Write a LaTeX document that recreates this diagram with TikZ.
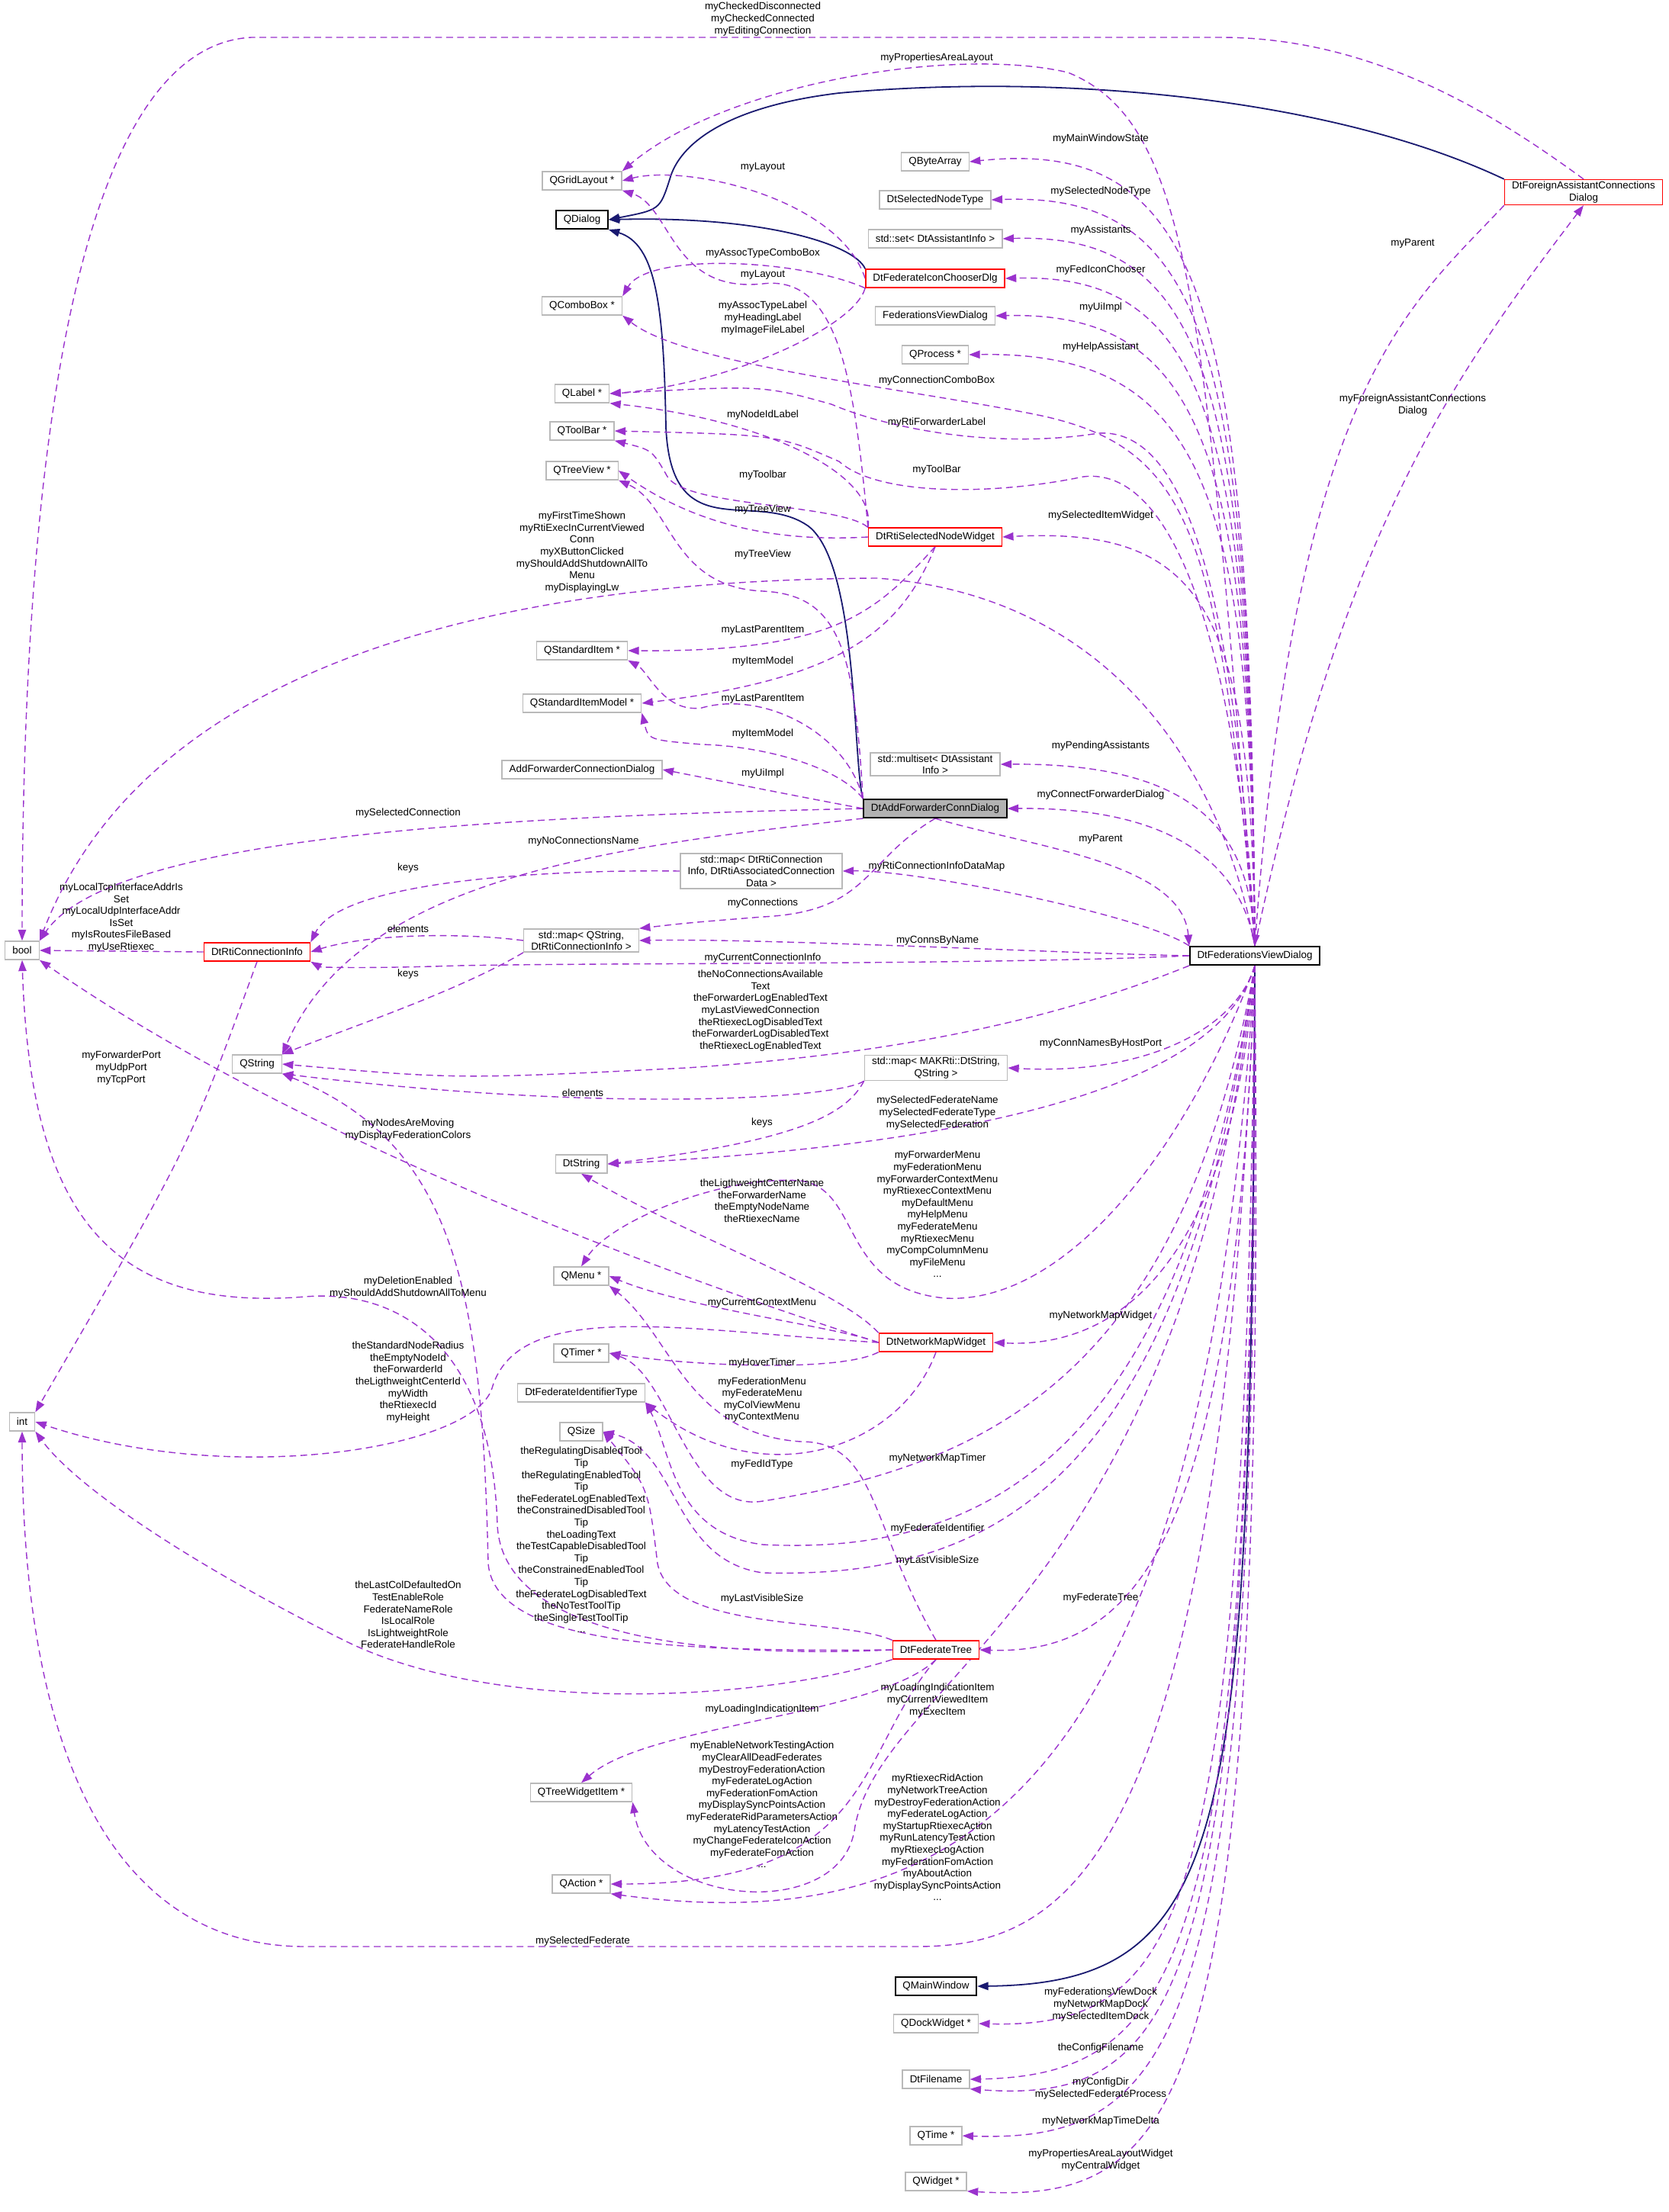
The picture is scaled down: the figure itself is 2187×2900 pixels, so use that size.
\documentclass[tikz,border=0pt]{standalone}
\usepackage{fontspec}
\setmainfont{Liberation Sans}
\usetikzlibrary{arrows.meta}
\newcommand{\lblfont}{\fontsize{3.35}{3.9}\selectfont}
\definecolor{membercol}{RGB}{154,50,205}
\definecolor{inhercol}{RGB}{25,25,112}
\pgfdeclarelayer{edges}
\pgfsetlayers{edges,main}
\tikzset{every picture/.style={line width=0.4pt}}
\tikzset{
  cls/.style={draw=gray!55, fill=white, inner xsep=2.4pt, inner ysep=0.6pt, minimum height=6pt, font=\lblfont, align=center, line width=0.35pt},
  red cls/.style={cls, draw=red},
  base cls/.style={cls, draw=black, line width=0.5pt},
  this cls/.style={cls, draw=black, fill=gray!60, line width=0.5pt},
  lbl/.style={font=\lblfont, align=center, inner sep=0pt},
  mem/.style={draw=membercol, dash pattern=on 2.2pt off 1.4pt, line width=0.35pt, -{Triangle[length=3.6pt,width=2.6pt]}, fill=none},
  inh/.style={draw=inhercol, line width=0.45pt, -{Triangle[length=3.6pt,width=2.6pt]}},
}

\begin{document}
\begin{tikzpicture}[x=0.25pt,y=-0.25pt]
\useasboundingbox (0,0) rectangle (2187,2900);

% left column
\node[cls] (bool) at (29,1246) {bool};
\node[cls] (int) at (29,1864) {int};
\node[red cls] (rtici) at (337,1248) {DtRtiConnectionInfo};
\node[cls] (qstring) at (337,1395) {QString};

% second column
\node[cls] (qgrid) at (763,237) {QGridLayout *};
\node[base cls] (qdialog) at (763,288) {QDialog};
\node[cls] (qcombo) at (763,401) {QComboBox *};
\node[cls] (qlabel) at (763,516) {QLabel *};
\node[cls] (qtoolbar) at (763,565) {QToolBar *};
\node[cls] (qtreeview) at (763,617) {QTreeView *};
\node[cls] (qsitem) at (763,853) {QStandardItem *};
\node[cls] (qsimodel) at (763,922) {QStandardItemModel *};
\node[cls] (addfwdui) at (763,1009) {AddForwarderConnectionDialog};
\node[cls] (infomap) at (998,1142) {std::map\textless{} DtRtiConnection\\Info, DtRtiAssociatedConnection\\Data \textgreater{}};
\node[cls] (connmap) at (762,1233) {std::map\textless{} QString,\\DtRtiConnectionInfo \textgreater{}};
\node[cls] (dtstring) at (762,1526) {DtString};
\node[cls] (qmenu) at (762,1673) {QMenu *};
\node[cls] (qtimer) at (762,1774) {QTimer *};
\node[cls] (fedidtype) at (762,1826) {DtFederateIdentifierType};
\node[cls] (qsize) at (762,1877) {QSize};
\node[cls] (qtwitem) at (762,2350) {QTreeWidgetItem *};
\node[cls] (qaction) at (762,2470) {QAction *};

% third column
\node[cls] (qbytearray) at (1226,212) {QByteArray};
\node[cls] (selnodetype) at (1226,262) {DtSelectedNodeType};
\node[cls] (assistset) at (1226,313) {std::set\textless{} DtAssistantInfo \textgreater{}};
\node[red cls] (iconchooser) at (1226,365) {DtFederateIconChooserDlg};
\node[cls] (fvdui) at (1226,414) {FederationsViewDialog};
\node[cls] (qprocess) at (1226,465) {QProcess *};
\node[red cls] (selnodewidget) at (1226,704) {DtRtiSelectedNodeWidget};
\node[cls] (assistmulti) at (1226,1002) {std::multiset\textless{} DtAssistant\\Info \textgreater{}};
\node[this cls] (addfwd) at (1226,1060) {DtAddForwarderConnDialog};
\node[cls] (hostmap) at (1227,1400) {std::map\textless{} MAKRti::DtString,\\QString \textgreater{}};
\node[red cls] (netmap) at (1227,1760) {DtNetworkMapWidget};
\node[red cls] (fedtree) at (1227,2163) {DtFederateTree};
\node[base cls] (qmainwindow) at (1227,2604) {QMainWindow};
\node[cls] (qdock) at (1227,2653) {QDockWidget *};
\node[cls] (dtfilename) at (1227,2726) {DtFilename};
\node[cls] (qtime) at (1227,2800) {QTime *};
\node[cls] (qwidget) at (1227,2860) {QWidget *};

% right side
\node[base cls] (fvd) at (1645,1253) {DtFederationsViewDialog};
\node[red cls] (foreign) at (2076,252) {DtForeignAssistantConnections\\Dialog};

\begin{pgfonlayer}{edges}
% inheritance
\draw[inh] (addfwd.north west) .. controls (1118,1000) and (1125,740) .. (1060,690) .. controls (990,640) and (880,720) .. (873,560) .. controls (870,400) and (860,320) .. (qdialog.south east);
\draw[inh] (iconchooser.north west) .. controls (1120,320) and (1000,283) .. (qdialog.east);
\draw[inh] (foreign.north west) .. controls (1750,130) and (1400,95) .. (1100,122) .. controls (950,140) and (890,190) .. (878,235) .. controls (865,275) .. (qdialog.east);
\draw[inh] (fvd.south) .. controls (1640,2400) and (1620,2600) .. (qmainwindow.east);

% members of the foreign dialog
\draw[mem] (foreign.north) .. controls (1960,150) and (1800,49) .. (1600,49) -- (330,49) .. controls (100,60) and (29,600) .. (bool.north);
\draw[mem] (foreign.south west) .. controls (1850,400) and (1700,500) .. (fvd.north);
\draw[mem] (fvd.north) .. controls (1760,700) and (1900,500) .. (foreign.south);

% members of the federations view dialog, upward
\draw[mem] (fvd.north) .. controls (1580,400) and (1560,160) .. (1400,95) .. controls (1250,60) and (950,110) .. (qgrid.north east);
\draw[mem] (fvd.north) .. controls (1640,400) and (1580,180) .. (qbytearray.east);
\draw[mem] (fvd.north) .. controls (1640,450) and (1580,252) .. (selnodetype.east);
\draw[mem] (fvd.north) .. controls (1640,500) and (1580,305) .. (assistset.east);
\draw[mem] (fvd.north) .. controls (1640,550) and (1580,358) .. (iconchooser.east);
\draw[mem] (fvd.north) .. controls (1640,600) and (1580,408) .. (fvdui.east);
\draw[mem] (fvd.north) .. controls (1640,650) and (1580,460) .. (qprocess.east);
\draw[mem] (fvd.north) .. controls (1640,800) and (1580,690) .. (selnodewidget.east);
\draw[mem] (fvd.north) .. controls (1640,1100) and (1580,1000) .. (assistmulti.east);
\draw[mem] (fvd.north) .. controls (1630,1150) and (1560,1058) .. (addfwd.east);
\draw[mem] (fvd.north) .. controls (1600,700) and (1560,590) .. (1370,546) .. controls (1200,510) and (900,480) .. (qcombo.south east);
\draw[mem] (fvd.north) .. controls (1620,800) and (1560,560) .. (1440,568) .. controls (1300,590) and (1160,560) .. (1090,530) .. controls (1000,505) .. (qlabel.east);
\draw[mem] (fvd.north) .. controls (1620,850) and (1540,610) .. (1420,625) .. controls (1300,650) and (1150,650) .. (1100,605) .. controls (1020,570) .. (qtoolbar.east);
\draw[mem] (fvd.north) .. controls (1600,1000) and (1450,780) .. (1150,758) .. controls (700,760) and (200,850) .. (bool.north east);
\draw[mem] (fvd.north west) .. controls (1500,1200) and (1200,1140) .. (infomap.east);
\draw[mem] (fvd.west) .. controls (1400,1250) and (1000,1230) .. (connmap.east);
\draw[mem] (fvd.west) .. controls (1300,1265) and (800,1262) .. (600,1266) .. controls (480,1270) and (420,1268) .. (rtici.south east);

% members of the federations view dialog, downward
\draw[mem] (fvd.south west) .. controls (1400,1330) and (1200,1380) .. (900,1400) .. controls (600,1415) .. (qstring.east);
\draw[mem] (fvd.south) .. controls (1620,1350) and (1500,1410) .. (hostmap.east);
\draw[mem] (fvd.south) .. controls (1600,1420) and (1300,1500) .. (dtstring.east);
\draw[mem] (fvd.south) .. controls (1560,1500) and (1400,1710) .. (1240,1702) .. controls (1100,1690) and (1130,1560) .. (1050,1548) .. controls (950,1540) and (800,1600) .. (qmenu.north);
\draw[mem] (fvd.south) .. controls (1620,1600) and (1500,1770) .. (netmap.east);
\draw[mem] (fvd.south) .. controls (1550,1800) and (1300,1920) .. (1000,1968) .. controls (900,1985) and (880,1800) .. (qtimer.east);
\draw[mem] (fvd.south) .. controls (1550,1900) and (1300,2040) .. (1000,2025) .. controls (880,2010) and (880,1900) .. (fedidtype.south east);
\draw[mem] (fvd.south) .. controls (1550,1950) and (1300,2070) .. (1000,2062) .. controls (880,2045) and (890,1900) .. (qsize.east);
\draw[mem] (fvd.south) .. controls (1620,2000) and (1500,2170) .. (fedtree.east);
\draw[mem] (fvd.south) .. controls (1550,2100) and (1150,2200) .. (1120,2400) .. controls (1100,2520) and (850,2500) .. (qtwitem.south east);
\draw[mem] (fvd.south) .. controls (1580,2300) and (1300,2550) .. (qaction.south east);
\draw[mem] (fvd.south) .. controls (1600,2450) and (1400,2552) .. (1200,2552) -- (400,2552) .. controls (150,2552) and (29,2300) .. (int.south);
\draw[mem] (fvd.south) .. controls (1630,2500) and (1560,2660) .. (qdock.east);
\draw[mem] (fvd.south) .. controls (1640,2550) and (1560,2720) .. (dtfilename.east);
\draw[mem] (fvd.south) .. controls (1640,2600) and (1560,2760) .. (dtfilename.south east);
\draw[mem] (fvd.south) .. controls (1650,2650) and (1560,2810) .. (qtime.east);
\draw[mem] (fvd.south) .. controls (1660,2750) and (1560,2890) .. (qwidget.south east);

% members of the icon chooser
\draw[mem] (iconchooser.west) .. controls (1100,260) and (900,215) .. (qgrid.east);
\draw[mem] (iconchooser.south west) .. controls (1050,340) and (850,330) .. (qcombo.north east);
\draw[mem] (iconchooser.south west) .. controls (1120,430) and (950,505) .. (qlabel.east);

% members of the selected node widget
\draw[mem] (selnodewidget.north west) .. controls (1120,500) and (1100,360) .. (1000,372) .. controls (880,385) and (880,270) .. (qgrid.south east);
\draw[mem] (selnodewidget.north west) .. controls (1150,620) and (1000,550) .. (qlabel.south east);
\draw[mem] (selnodewidget.north west) .. controls (1100,660) and (900,665) .. (875,625) .. controls (855,590) .. (qtoolbar.south east);
\draw[mem] (selnodewidget.west) .. controls (1000,712) and (900,680) .. (qtreeview.east);
\draw[mem] (selnodewidget.south) .. controls (1150,800) and (1100,855) .. (qsitem.east);
\draw[mem] (selnodewidget.south) .. controls (1180,830) and (1100,890) .. (qsimodel.east);

% members of the add forwarder dialog
\draw[mem] (addfwd.north west) .. controls (1120,850) and (1100,780) .. (1000,775) .. controls (880,770) and (880,660) .. (qtreeview.south east);
\draw[mem] (addfwd.north west) .. controls (1110,960) and (1000,905) .. (920,928) .. controls (870,935) and (850,880) .. (qsitem.south east);
\draw[mem] (addfwd.north west) .. controls (1100,1005) and (1000,978) .. (920,976) .. controls (850,970) .. (qsimodel.south east);
\draw[mem] (addfwd.west) .. controls (1050,1045) and (900,1015) .. (addfwdui.east);
\draw[mem] (addfwd.west) .. controls (700,1070) and (150,1090) .. (bool.north east);
\draw[mem] (addfwd.south west) .. controls (800,1110) and (470,1150) .. (qstring.north east);
\draw[mem] (addfwd.south) .. controls (1130,1130) and (1140,1195) .. (1000,1202) .. controls (900,1210) .. (connmap.north east);
\draw[mem] (addfwd.south) .. controls (1350,1110) and (1550,1130) .. (fvd.north west);

% members of the containers and the connection info
\draw[mem] (infomap.west) .. controls (750,1140) and (450,1150) .. (rtici.north east);
\draw[mem] (connmap.west) .. controls (600,1222) and (480,1225) .. (rtici.east);
\draw[mem] (connmap.south west) .. controls (600,1300) and (450,1350) .. (qstring.north east);
\draw[mem] (hostmap.south west) .. controls (1100,1440) and (800,1460) .. (qstring.south east);
\draw[mem] (hostmap.south west) .. controls (1110,1460) and (1050,1495) .. (dtstring.east);
\draw[mem] (rtici.west) -- (bool.east);
\draw[mem] (rtici.south) .. controls (250,1500) .. (int.north east);

% members of the network map widget
\draw[mem] (netmap.north west) .. controls (1100,1690) and (900,1620) .. (dtstring.south);
\draw[mem] (netmap.west) .. controls (900,1680) and (400,1500) .. (bool.south east);
\draw[mem] (netmap.west) .. controls (1100,1740) and (900,1715) .. (qmenu.east);
\draw[mem] (netmap.west) .. controls (900,1745) and (680,1700) .. (645,1820) .. controls (620,1900) and (300,1950) .. (int.east);
\draw[mem] (netmap.south west) .. controls (1100,1800) and (900,1790) .. (qtimer.east);
\draw[mem] (netmap.south) .. controls (1180,1900) and (1000,1960) .. (fedidtype.south east);

% members of the federate tree
\draw[mem] (fedtree.north west) .. controls (1100,2120) and (880,2140) .. (862,2050) .. controls (850,1950) .. (qsize.east);
\draw[mem] (fedtree.north) .. controls (1140,2000) and (1150,1890) .. (1050,1890) .. controls (900,1880) and (880,1750) .. (qmenu.south east);
\draw[mem] (fedtree.west) .. controls (900,2165) and (650,2160) .. (640,2050) .. controls (632,1700) and (600,1500) .. (qstring.south east);
\draw[mem] (fedtree.west) .. controls (900,2175) and (660,2140) .. (652,2000) .. controls (645,1760) and (520,1690) .. (400,1700) .. controls (150,1720) and (40,1600) .. (bool.south);
\draw[mem] (fedtree.south west) .. controls (1000,2230) and (650,2250) .. (450,2150) .. controls (250,2050) and (100,1950) .. (int.south east);
\draw[mem] (fedtree.south) .. controls (1150,2250) and (850,2260) .. (qtwitem.north);
\draw[mem] (fedtree.south) .. controls (1120,2300) and (1150,2470) .. (qaction.east);
\end{pgfonlayer}

% edge labels
\node[lbl] (lChecked) at (1000,25) {myCheckedDisconnected\\myCheckedConnected\\myEditingConnection};
\node[lbl] (lPropLayout) at (1228,76) {myPropertiesAreaLayout};
\node[lbl] (lMainWin) at (1443,182) {myMainWindowState};
\node[lbl] (lSelNodeType) at (1443,251) {mySelectedNodeType};
\node[lbl] (lAssist) at (1443,302) {myAssistants};
\node[lbl] (lIconChooser) at (1443,354) {myFedIconChooser};
\node[lbl] (lUiImplA) at (1443,403) {myUiImpl};
\node[lbl] (lHelp) at (1443,455) {myHelpAssistant};
\node[lbl] (lCombo) at (1228,499) {myConnectionComboBox};
\node[lbl] (lFwdLabel) at (1228,554) {myRtiForwarderLabel};
\node[lbl] (lToolBar) at (1228,616) {myToolBar};
\node[lbl] (lSelItem) at (1443,676) {mySelectedItemWidget};
\node[lbl] (lParentF) at (1852,319) {myParent};
\node[lbl] (lForeign) at (1852,531) {myForeignAssistantConnections\\Dialog};
\node[lbl] (lLayoutA) at (1000,219) {myLayout};
\node[lbl] (lAssocCombo) at (1000,332) {myAssocTypeComboBox};
\node[lbl] (lLayoutB) at (1000,360) {myLayout};
\node[lbl] (lAssocLabel) at (1000,417) {myAssocTypeLabel\\myHeadingLabel\\myImageFileLabel};
\node[lbl] (lNodeId) at (1000,544) {myNodeIdLabel};
\node[lbl] (lToolbar) at (1000,623) {myToolbar};
\node[lbl] (lTreeA) at (1000,668) {myTreeView};
\node[lbl] (lTreeB) at (1000,727) {myTreeView};
\node[lbl] (lFirst) at (763,724) {myFirstTimeShown\\myRtiExecInCurrentViewed\\Conn\\myXButtonClicked\\myShouldAddShutdownAllTo\\Menu\\myDisplayingLw};
\node[lbl] (lParentA) at (1000,826) {myLastParentItem};
\node[lbl] (lModelA) at (1000,867) {myItemModel};
\node[lbl] (lParentB) at (1000,916) {myLastParentItem};
\node[lbl] (lModelB) at (1000,962) {myItemModel};
\node[lbl] (lUiImplB) at (1000,1014) {myUiImpl};
\node[lbl] (lPending) at (1443,978) {myPendingAssistants};
\node[lbl] (lConnFwd) at (1443,1042) {myConnectForwarderDialog};
\node[lbl] (lParentB2) at (1443,1100) {myParent};
\node[lbl] (lSelConn) at (535,1066) {mySelectedConnection};
\node[lbl] (lNoConn) at (765,1103) {myNoConnectionsName};
\node[lbl] (lKeysA) at (535,1138) {keys};
\node[lbl] (lDataMap) at (1228,1136) {myRtiConnectionInfoDataMap};
\node[lbl] (lConns) at (1000,1184) {myConnections};
\node[lbl] (lElemA) at (535,1218) {elements};
\node[lbl] (lByName) at (1229,1233) {myConnsByName};
\node[lbl] (lCurConn) at (1000,1256) {myCurrentConnectionInfo};
\node[lbl] (lKeysB) at (535,1277) {keys};
\node[lbl] (lLocalTcp) at (159,1203) {myLocalTcpInterfaceAddrIs\\Set\\myLocalUdpInterfaceAddr\\IsSet\\myIsRoutesFileBased\\myUseRtiexec};
\node[lbl] (lNoConnText) at (997,1325) {theNoConnectionsAvailable\\Text\\theForwarderLogEnabledText\\myLastViewedConnection\\theRtiexecLogDisabledText\\theForwarderLogDisabledText\\theRtiexecLogEnabledText};
\node[lbl] (lHostPort) at (1443,1368) {myConnNamesByHostPort};
\node[lbl] (lFwdPort) at (159,1400) {myForwarderPort\\myUdpPort\\myTcpPort};
\node[lbl] (lElemB) at (764,1433) {elements};
\node[lbl] (lSelFed) at (1229,1459) {mySelectedFederateName\\mySelectedFederateType\\mySelectedFederation};
\node[lbl] (lKeysC) at (999,1472) {keys};
\node[lbl] (lMoving) at (535,1481) {myNodesAreMoving\\myDisplayFederationColors};
\node[lbl] (lMenus) at (1229,1592) {myForwarderMenu\\myFederationMenu\\myForwarderContextMenu\\myRtiexecContextMenu\\myDefaultMenu\\myHelpMenu\\myFederateMenu\\myRtiexecMenu\\myCompColumnMenu\\myFileMenu\\...};
\node[lbl] (lNames) at (999,1574) {theLigthweightCenterName\\theForwarderName\\theEmptyNodeName\\theRtiexecName};
\node[lbl] (lDeletion) at (535,1688) {myDeletionEnabled\\myShouldAddShutdownAllToMenu};
\node[lbl] (lCtxMenu) at (999,1708) {myCurrentContextMenu};
\node[lbl] (lNetMap) at (1443,1725) {myNetworkMapWidget};
\node[lbl] (lRadius) at (535,1812) {theStandardNodeRadius\\theEmptyNodeId\\theForwarderId\\theLigthweightCenterId\\myWidth\\theRtiexecId\\myHeight};
\node[lbl] (lHover) at (999,1787) {myHoverTimer};
\node[lbl] (lTreeMenus) at (999,1835) {myFederationMenu\\myFederateMenu\\myColViewMenu\\myContextMenu};
\node[lbl] (lMapTimer) at (1229,1912) {myNetworkMapTimer};
\node[lbl] (lFedIdType) at (999,1920) {myFedIdType};
\node[lbl] (lFedIdent) at (1229,2004) {myFederateIdentifier};
\node[lbl] (lVisibleA) at (1229,2046) {myLastVisibleSize};
\node[lbl] (lRegulating) at (762,2019) {theRegulatingDisabledTool\\Tip\\theRegulatingEnabledTool\\Tip\\theFederateLogEnabledText\\theConstrainedDisabledTool\\Tip\\theLoadingText\\theTestCapableDisabledTool\\Tip\\theConstrainedEnabledTool\\Tip\\theFederateLogDisabledText\\theNoTestToolTip\\theSingleTestToolTip\\...};
\node[lbl] (lColRoles) at (535,2117) {theLastColDefaultedOn\\TestEnableRole\\FederateNameRole\\IsLocalRole\\IsLightweightRole\\FederateHandleRole};
\node[lbl] (lFedTree) at (1443,2095) {myFederateTree};
\node[lbl] (lVisibleB) at (999,2096) {myLastVisibleSize};
\node[lbl] (lItems) at (1229,2229) {myLoadingIndicationItem\\myCurrentViewedItem\\myExecItem};
\node[lbl] (lLoading) at (999,2241) {myLoadingIndicationItem};
\node[lbl] (lTreeActions) at (999,2366) {myEnableNetworkTestingAction\\myClearAllDeadFederates\\myDestroyFederationAction\\myFederateLogAction\\myFederationFomAction\\myDisplaySyncPointsAction\\myFederateRidParametersAction\\myLatencyTestAction\\myChangeFederateIconAction\\myFederateFomAction\\...};
\node[lbl] (lViewActions) at (1229,2409) {myRtiexecRidAction\\myNetworkTreeAction\\myDestroyFederationAction\\myFederateLogAction\\myStartupRtiexecAction\\myRunLatencyTestAction\\myRtiexecLogAction\\myFederationFomAction\\myAboutAction\\myDisplaySyncPointsAction\\...};
\node[lbl] (lSelFederate) at (764,2545) {mySelectedFederate};
\node[lbl] (lDocks) at (1443,2628) {myFederationsViewDock\\myNetworkMapDock\\mySelectedItemDock};
\node[lbl] (lConfigFile) at (1443,2685) {theConfigFilename};
\node[lbl] (lConfigDir) at (1443,2738) {myConfigDir\\mySelectedFederateProcess};
\node[lbl] (lTimeDelta) at (1443,2781) {myNetworkMapTimeDelta};
\node[lbl] (lWidgets) at (1443,2832) {myPropertiesAreaLayoutWidget\\myCentralWidget};
\end{tikzpicture}
\end{document}
